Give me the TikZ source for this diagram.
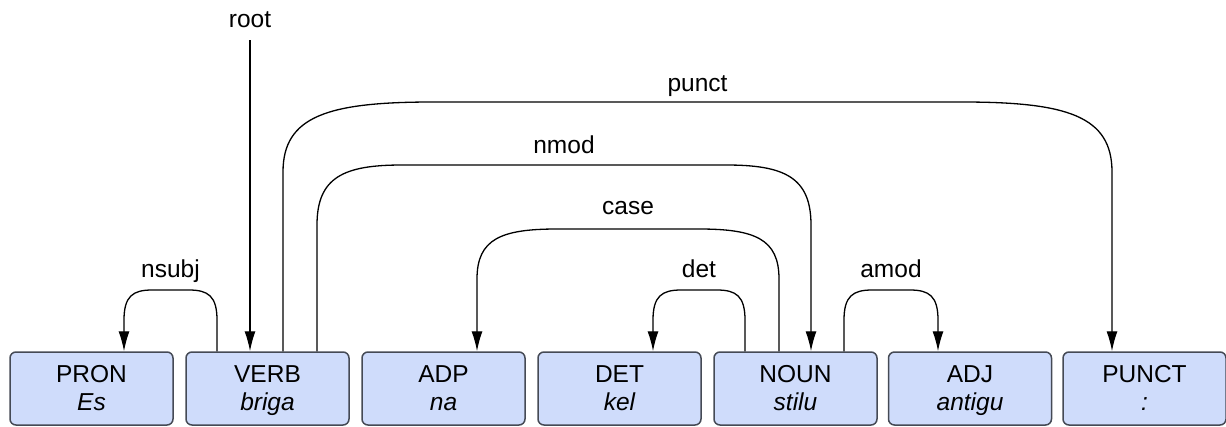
\documentclass[tikz,border=0pt]{standalone}
\usepackage{fontspec}
\setmainfont{Liberation Sans}
\usetikzlibrary{arrows.meta}
\definecolor{boxfill}{HTML}{CFDCFB}
\definecolor{boxline}{HTML}{454A55}
\tikzset{
  wordbox/.style={draw=boxline, fill=boxfill, line width=1.5pt, rounded corners=6pt,
    minimum width=163pt, minimum height=73pt, inner sep=0pt},
  tagtext/.style={anchor=base, font=\fontsize{24.5}{28}\selectfont, inner sep=0pt},
  formtext/.style={anchor=base, font=\fontsize{24.5}{28}\selectfont\itshape, inner sep=0pt},
  deplabel/.style={anchor=base, font=\fontsize{24.5}{28}\selectfont, inner sep=0pt},
  dep/.style={line width=1.3pt, -{Latex[length=20pt,width=11pt]}},
}
\begin{document}
\begin{tikzpicture}[x=1pt, y=-1pt]
\useasboundingbox (0,0) rectangle (1226,426);

% word boxes with part-of-speech tag and word form
\foreach \i/\cx/\tag/\form in {1/91.5/PRON/Es, 2/267.5/VERB/briga, 3/443.5/ADP/na,
    4/619.5/DET/kel, 5/795.5/NOUN/stilu, 6/970/ADJ/antigu, 7/1144.5/PUNCT/:} {
  \node[wordbox] (w\i) at (\cx,388.5) {};
  \node[tagtext] (t\i) at (\cx,382) {\tag};
  \node[formtext] (f\i) at (\cx,410) {\form};
}

% root
\coordinate (rootend) at (250,40);
\node[deplabel] (lroot) at (250,27) {root};
\draw[dep] (rootend) -- ([xshift=-17.5pt]w2.north);

% punct: VERB -> PUNCT
\draw[dep] ([xshift=15.5pt]w2.north) -- (283,172)
  .. controls (283,116) and (328,102) .. (433,102) -- (962,102)
  .. controls (1067,102) and (1112,116) .. (1112,172) -- ([xshift=-32.5pt]w7.north);
\node[deplabel] (lpunct) at (697.5,91) {punct};

% nmod: VERB -> NOUN
\draw[dep] ([xshift=49.5pt]w2.north) -- (317,225)
  .. controls (317,177) and (344,165) .. (402,165) -- (726,165)
  .. controls (784,165) and (811,177) .. (811,225) -- ([xshift=15.5pt]w5.north);
\node[deplabel] (lnmod) at (564,153) {nmod};

% case: NOUN -> ADP
\draw[dep] ([xshift=-16.5pt]w5.north) -- (779,279)
  .. controls (779,239) and (755,229) .. (699,229) -- (557,229)
  .. controls (501,229) and (477,239) .. (477,279) -- ([xshift=33.5pt]w3.north);
\node[deplabel] (lcase) at (628,214) {case};

% det: NOUN -> DET
\draw[dep] ([xshift=-50.5pt]w5.north) -- (745,320)
  .. controls (745,296) and (736,290) .. (717,290) -- (681,290)
  .. controls (662,290) and (653,296) .. (653,320) -- ([xshift=33.5pt]w4.north);
\node[deplabel] (ldet) at (699,277) {det};

% nsubj: VERB -> PRON
\draw[dep] ([xshift=-50.5pt]w2.north) -- (217,320)
  .. controls (217,296) and (208,290) .. (189,290) -- (152,290)
  .. controls (133,290) and (124,296) .. (124,320) -- ([xshift=32.5pt]w1.north);
\node[deplabel] (lnsubj) at (170.5,277) {nsubj};

% amod: NOUN -> ADJ
\draw[dep] ([xshift=48.5pt]w5.north) -- (844,320)
  .. controls (844,296) and (853,290) .. (872,290) -- (910,290)
  .. controls (929,290) and (938,296) .. (938,320) -- ([xshift=-32pt]w6.north);
\node[deplabel] (lamod) at (891,277) {amod};
\end{tikzpicture}
\end{document}
